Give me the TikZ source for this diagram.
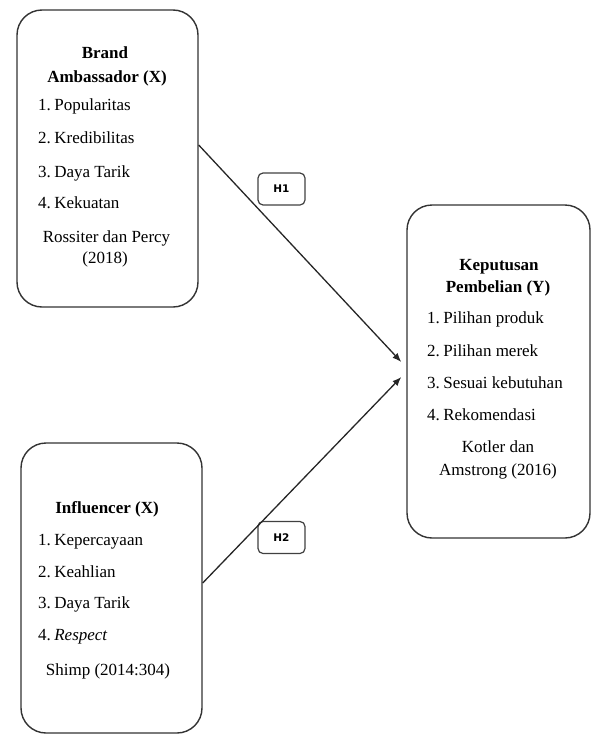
\documentclass[tikz,border=0pt]{standalone}
\usepackage{fontspec}
\setmainfont{Liberation Serif}
\newfontfamily\hfont{DejaVu Sans}
\usetikzlibrary{arrows.meta}
\begin{document}
\begin{tikzpicture}[x=1pt,y=-1pt,
  bigbox/.style={draw=black!80,line width=1.4pt,rounded corners=25pt,inner sep=0pt},
  hbox/.style={draw=black!75,line width=1.2pt,rounded corners=5pt,minimum width=47pt,minimum height=32pt,inner sep=0pt,font=\hfont\bfseries\fontsize{10.5}{12}\selectfont},
  txt/.style={inner sep=0pt,anchor=base,font=\fontsize{17}{20}\selectfont},
  hd/.style={txt,font=\bfseries\fontsize{17}{20}\selectfont},
  item/.style={txt,anchor=base west},
  conn/.style={draw=black!85,line width=1.3pt,-{Latex[length=9pt,width=7pt]}}]
\useasboundingbox (0,0) rectangle (592,736);
% boxes
\node[bigbox,minimum width=181pt,minimum height=297pt] (b1) at (107.5,158.5) {};
\node[bigbox,minimum width=181pt,minimum height=290pt] (b2) at (111.5,588) {};
\node[bigbox,minimum width=183pt,minimum height=333pt] (b3) at (498.5,371.5) {};
% box 1 text
\node[hd] (b1h1) at (105,58.5) {Brand};
\node[hd] (b1h2) at (107,82.5) {Ambassador (X)};
\node[item] (b1i1) at (38,110.5) {1.\hspace{0.2em}Popularitas};
\node[item] (b1i2) at (38,143.5) {2.\hspace{0.2em}Kredibilitas};
\node[item] (b1i3) at (38,177) {3.\hspace{0.2em}Daya Tarik};
\node[item] (b1i4) at (38,208.5) {4.\hspace{0.2em}Kekuatan};
\node[txt] (b1s1) at (106.5,242.5) {Rossiter dan Percy};
\node[txt] (b1s2) at (105,263.5) {(2018)};
% box 2 text
\node[hd] (b2h) at (107,513.5) {Influencer (X)};
\node[item] (b2i1) at (38,545.5) {1.\hspace{0.2em}Kepercayaan};
\node[item] (b2i2) at (38,577.5) {2.\hspace{0.2em}Keahlian};
\node[item] (b2i3) at (38,608.5) {3.\hspace{0.2em}Daya Tarik};
\node[item] (b2i4) at (38,640.5) {4.\hspace{0.2em}\textit{Respect}};
\node[txt] (b2s) at (108,675.5) {Shimp (2014:304)};
% box 3 text
\node[hd] (b3h1) at (499,270.5) {Keputusan};
\node[hd] (b3h2) at (498,292.5) {Pembelian (Y)};
\node[item] (b3i1) at (427,323.5) {1.\hspace{0.2em}Pilihan produk};
\node[item] (b3i2) at (427,356.5) {2.\hspace{0.2em}Pilihan merek};
\node[item] (b3i3) at (427,388.5) {3.\hspace{0.2em}Sesuai kebutuhan};
\node[item] (b3i4) at (427,420.5) {4.\hspace{0.2em}Rekomendasi};
\node[txt] (b3s1) at (498,452.5) {Kotler dan};
\node[txt] (b3s2) at (498,475.5) {Amstrong (2016)};
% hypothesis labels
\node[hbox] (h1) at (281.5,189) {H1};
\node[hbox] (h2) at (281.5,537.5) {H2};
% connectors
\draw[conn] ([yshift=13.5pt]b1.east) -- ([xshift=-5pt,yshift=9.5pt]b3.west);
\draw[conn] ([yshift=5pt]b2.east) -- ([xshift=-5pt,yshift=-5.5pt]b3.west);
\end{tikzpicture}
\end{document}
